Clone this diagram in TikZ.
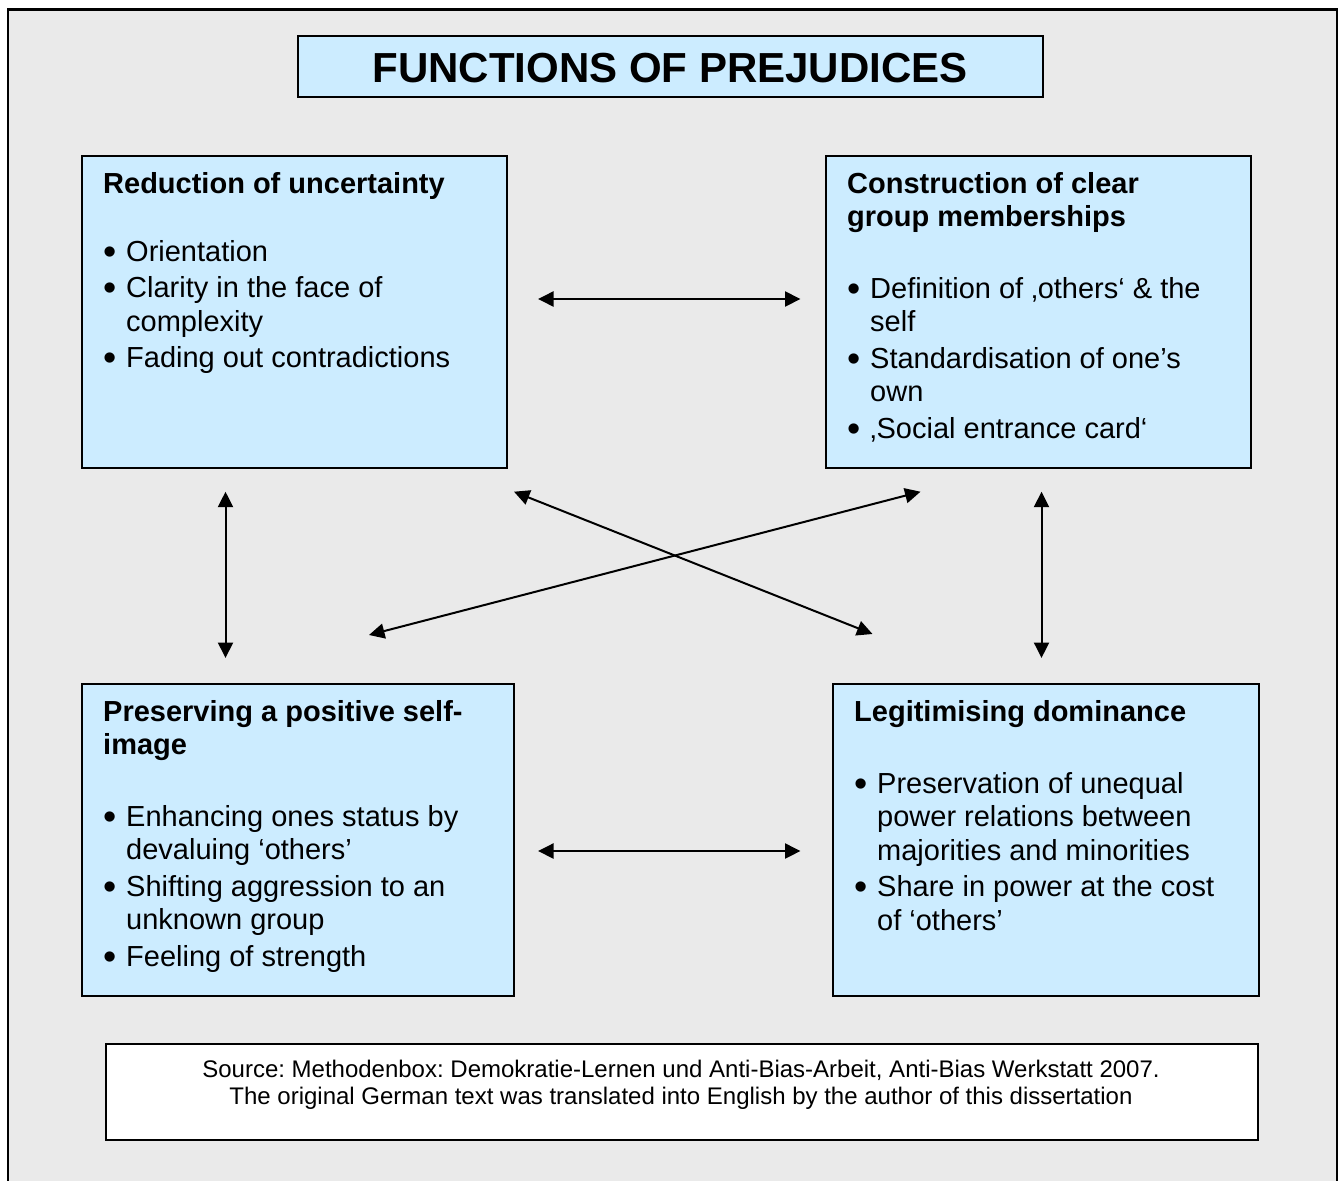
\documentclass[tikz,border=0pt]{standalone}
\usepackage{fontspec}
\usepackage{graphicx}
\setmainfont{Liberation Sans}
\usetikzlibrary{arrows.meta}
\definecolor{bggray}{HTML}{EAEAEA}
\definecolor{boxblue}{HTML}{CCECFF}
\frenchspacing
\newcommand\bigdot{\raisebox{-3.3pt}{\scalebox{1.3}{\textbullet}}}
\newcommand\bulletline[1]{\makebox[23pt][l]{\bigdot}\parbox[t]{380pt}{#1}}
\begin{document}
\begin{tikzpicture}[x=1pt,y=-1pt,
  panel/.style={draw=black,line width=2pt,fill=boxblue,inner sep=0pt,anchor=north west},
  head/.style={anchor=base west,inner sep=0pt,font=\fontsize{29}{33.5}\selectfont\bfseries},
  itm/.style={anchor=base west,inner sep=0pt,font=\fontsize{29}{33.5}\selectfont},
  link/.style={line width=2pt,{Triangle[length=15.5pt,width=15pt]}-{Triangle[length=15.5pt,width=15pt]}}
]
\fill[white] (0,0) rectangle (1343,1180);
\useasboundingbox (0,0) rectangle (1343,1180);
\clip (0,0) rectangle (1343,1180);
\draw[line width=2.5pt,fill=bggray] (8,9.5) rectangle (1337,1210);

% title
\node[panel,minimum width=745pt,minimum height=61pt] (titlebox) at (297,35) {};
\node[anchor=base,inner sep=0pt,font=\fontsize{42}{50}\selectfont\bfseries] (title) at (670,83) {FUNCTIONS OF PREJUDICES};

% boxes
\node[panel,minimum width=425pt,minimum height=312pt] (tl) at (81,155) {};
\node[panel,minimum width=425pt,minimum height=312pt] (tr) at (825,155) {};
\node[panel,minimum width=432pt,minimum height=312pt] (bl) at (81,683) {};
\node[panel,minimum width=425.5pt,minimum height=312pt] (br) at (832,683) {};

% top left
\node[head] (tlh) at (103,193) {Reduction of uncertainty};
\node[itm] (tl1) at (103,261) {\bulletline{Orientation}};
\node[itm] (tl2) at (103,297.5) {\bulletline{Clarity in the face of\\complexity}};
\node[itm] (tl3) at (103,367.5) {\bulletline{Fading out contradictions}};

% top right
\node[head] (trh) at (847,193) {\parbox[t]{380pt}{Construction of clear\\group memberships}};
\node[itm] (tr1) at (847,298) {\bulletline{Definition of ‚others‘ \& the\\self}};
\node[itm] (tr2) at (847,368) {\bulletline{Standardisation of one’s\\own}};
\node[itm] (tr3) at (847,438) {\bulletline{‚Social entrance card‘}};

% bottom left
\node[head] (blh) at (103,721) {\parbox[t]{400pt}{Preserving a positive self-\\image}};
\node[itm] (bl1) at (103,826) {\bulletline{Enhancing ones status by\\devaluing ‘others’}};
\node[itm] (bl2) at (103,896) {\bulletline{Shifting aggression to an\\unknown group}};
\node[itm] (bl3) at (103,966) {\bulletline{Feeling of strength}};

% bottom right
\node[head] (brh) at (854,721) {Legitimising dominance};
\node[itm] (br1) at (854,793) {\bulletline{Preservation of unequal\\power relations between\\majorities and minorities}};
\node[itm] (br2) at (854,896.5) {\bulletline{Share in power at the cost\\of ‘others’}};

% source
\node[panel,fill=white,minimum width=1152pt,minimum height=96pt] (src) at (105,1043) {};
\node[anchor=base,inner sep=0pt,font=\fontsize{24}{27}\selectfont] (srctext) at (681,1077.5)
  {\parbox[t]{1140pt}{\centering Source: Methodenbox: Demokratie-Lernen und Anti-Bias-Arbeit, Anti-Bias Werkstatt 2007.\\The original German text was translated into English by the author of this dissertation}};

% connector ends
\coordinate (h1a) at (538,299);   \coordinate (h1b) at (800.5,299);
\coordinate (h2a) at (538,851);   \coordinate (h2b) at (800.5,851);
\coordinate (v1a) at (225.5,491.7); \coordinate (v1b) at (225.5,658);
\coordinate (v2a) at (1041.5,491.7); \coordinate (v2b) at (1041.5,658);
\coordinate (d1a) at (514,491.7); \coordinate (d1b) at (872.5,634);
\coordinate (d2a) at (920.5,491.7); \coordinate (d2b) at (369,635);

\draw[link] (h1a) -- (h1b);
\draw[link] (h2a) -- (h2b);
\draw[link] (v1a) -- (v1b);
\draw[link] (v2a) -- (v2b);
\draw[link] (d1a) -- (d1b);
\draw[link] (d2a) -- (d2b);
\end{tikzpicture}
\end{document}
